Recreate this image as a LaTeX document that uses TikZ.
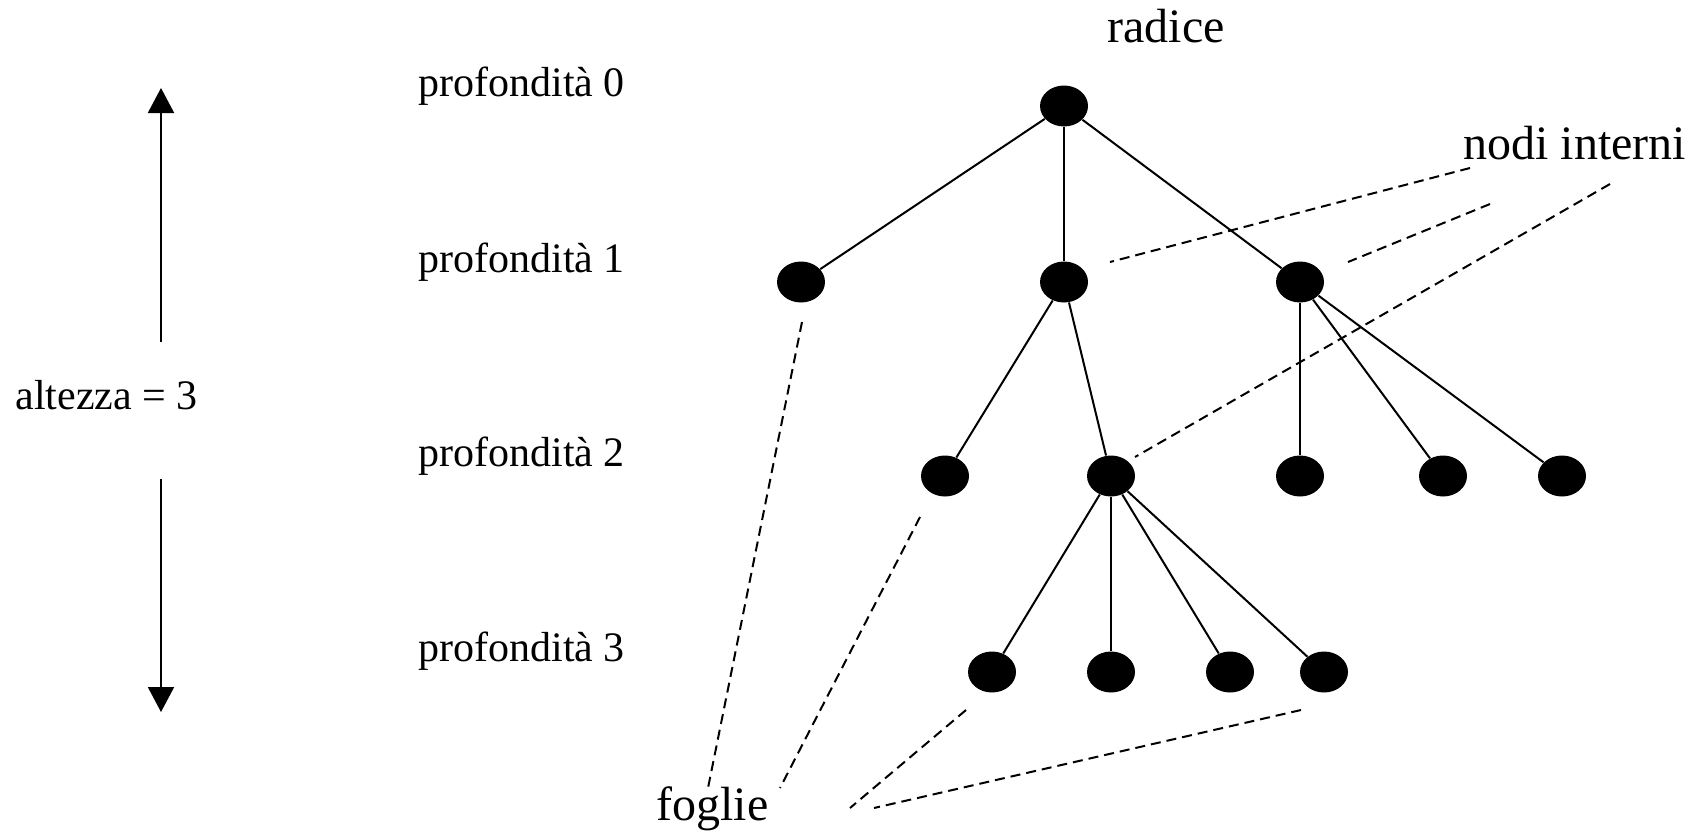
\documentclass[tikz,border=0pt]{standalone}
\usepackage{fontspec}
\setmainfont{Liberation Serif}
\usetikzlibrary{arrows.meta,shapes.geometric}

\begin{document}
\begin{tikzpicture}[x=0.5pt,y=-0.5pt,
  vertex/.style={shape=ellipse, fill=black, draw=none, minimum width=24pt, minimum height=20.5pt, inner sep=0pt},
  treeedge/.style={line width=1pt},
  pointer/.style={line width=1pt, dash pattern=on 5pt off 3pt},
  heightarrow/.style={line width=1pt, -{Triangle[width=13pt,length=12.5pt]}},
  smalllabel/.style={font=\fontsize{21}{25}\selectfont, anchor=base west, inner sep=0pt},
  biglabel/.style={font=\fontsize{24}{29}\selectfont, anchor=base west, inner sep=0pt},
]
\useasboundingbox (0,0) rectangle (1695,830);

% depth labels
\node[smalllabel] (p0) at (418,96) {profondità 0};
\node[smalllabel] (p1) at (418,272) {profondità 1};
\node[smalllabel] (p2) at (418,466) {profondità 2};
\node[smalllabel] (p3) at (418,661) {profondità 3};

% height indicator
\node[smalllabel] (alt) at (15,409) {altezza = 3};
\coordinate (upfrom) at (161,342);
\coordinate (upto) at (161,88);
\coordinate (downfrom) at (161,479);
\coordinate (downto) at (161,712);
\draw[heightarrow] (upfrom) -- (upto);
\draw[heightarrow] (downfrom) -- (downto);

% tree
\node[vertex] (r) at (1064,106) {};
\node[vertex] (a) at (801,282) {};
\node[vertex] (b) at (1064,282) {};
\node[vertex] (c) at (1300,282) {};
\node[vertex] (b1) at (945,476) {};
\node[vertex] (b2) at (1111,476) {};
\node[vertex] (c1) at (1300,476) {};
\node[vertex] (c2) at (1443,476) {};
\node[vertex] (c3) at (1562,476) {};
\node[vertex] (d1) at (992,672) {};
\node[vertex] (d2) at (1111,672) {};
\node[vertex] (d3) at (1230,672) {};
\node[vertex] (d4) at (1324,672) {};

\draw[treeedge] (r) -- (a);
\draw[treeedge] (r) -- (b);
\draw[treeedge] (r) -- (c);
\draw[treeedge] (b) -- (b1);
\draw[treeedge] (b) -- (b2);
\draw[treeedge] (c) -- (c1);
\draw[treeedge] (c) -- (c2);
\draw[treeedge] (c) -- (c3);
\draw[treeedge] (b2) -- (d1);
\draw[treeedge] (b2) -- (d2);
\draw[treeedge] (b2) -- (d3);
\draw[treeedge] (b2) -- (d4);

% annotations
\node[biglabel] (root) at (1107,42) {radice};
\node[biglabel] (internal) at (1463,159) {nodi interni};
\node[biglabel] (leaves) at (656,820) {foglie};

\coordinate (ia1) at (1470,168);
\coordinate (ia2) at (1110,262);
\coordinate (ib1) at (1490,204);
\coordinate (ib2) at (1348,262);
\coordinate (ic1) at (1610,184);
\coordinate (ic2) at (1135,457);
\draw[pointer] (ia1) -- (ia2);
\draw[pointer] (ib1) -- (ib2);
\draw[pointer] (ic1) -- (ic2);

\coordinate (la1) at (802,322);
\coordinate (la2) at (708,788);
\coordinate (lb1) at (920,517);
\coordinate (lb2) at (780,788);
\coordinate (lc1) at (966,710);
\coordinate (lc2) at (850,808);
\coordinate (ld1) at (1301,710);
\coordinate (ld2) at (874,808);
\draw[pointer] (la1) -- (la2);
\draw[pointer] (lb1) -- (lb2);
\draw[pointer] (lc1) -- (lc2);
\draw[pointer] (ld1) -- (ld2);
\end{tikzpicture}
\end{document}
